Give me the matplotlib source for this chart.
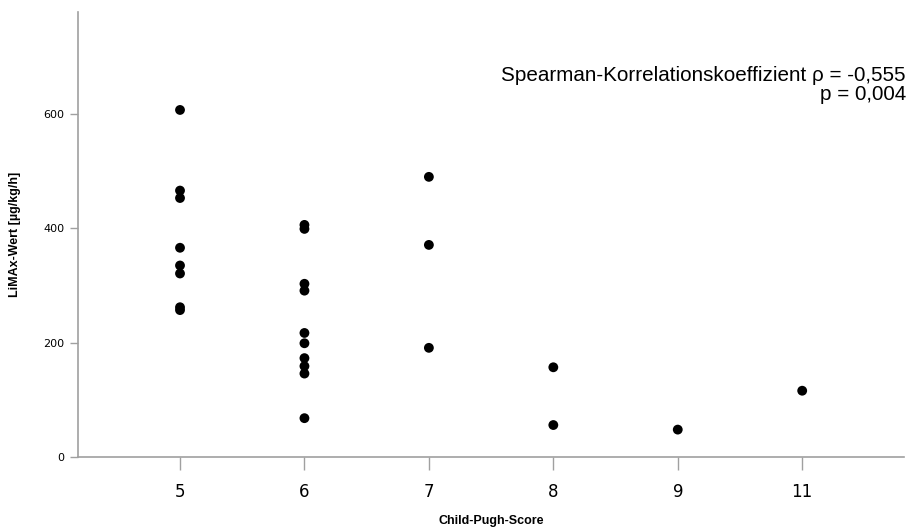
import matplotlib
matplotlib.use("Agg")
import matplotlib.pyplot as plt

# Child-Pugh categories (shown evenly spaced on the x axis)
categories = ["5", "6", "7", "8", "9", "11"]

# LiMAx values per category
limax_5 = [607, 466, 453, 366, 335, 321, 262, 257]
limax_6 = [406, 399, 303, 291, 217, 199, 173, 159, 146, 68]
limax_7 = [490, 371, 191]
limax_8 = [157, 56]
limax_9 = [48]
limax_11 = [116]

groups = [limax_5, limax_6, limax_7, limax_8, limax_9, limax_11]

annot_lines = ["Spearman-Korrelationskoeffizient \u03c1 = -0,555", "p = 0,004"]

fig = plt.figure(figsize=(9.13, 5.29), dpi=100)
ax = fig.add_axes([0.0854, 0.136, 0.905, 0.841])

for i, vals in enumerate(groups):
    ax.scatter([i] * len(vals), vals, s=50, color="black", edgecolors="none", zorder=3)

ax.set_xlim(-0.82, 5.82)
ax.set_ylim(0, 778)
ax.set_xticks(range(len(categories)))
ax.set_xticklabels(categories, fontsize=12,
                   family=["Liberation Sans Narrow", "DejaVu Sans"])
ax.set_yticks([0, 200, 400, 600])
ax.tick_params(axis="y", labelsize=8, length=6, color="#a0a0a0", width=1, pad=4)
ax.tick_params(axis="x", length=9, color="#a0a0a0", width=1, pad=10)

for side in ["top", "right"]:
    ax.spines[side].set_visible(False)
for side in ["left", "bottom"]:
    ax.spines[side].set_color("#a0a0a0")
    ax.spines[side].set_linewidth(1.2)

ax.set_xlabel("Child-Pugh-Score", fontsize=9, fontweight="bold",
              family="Liberation Sans", labelpad=10)
ax.set_ylabel("LiMAx-Wert [\u00b5g/kg/h]", fontsize=9, fontweight="bold",
              family="Liberation Sans", labelpad=16)

ax.text(1.002, 0.879, "\n".join(annot_lines), transform=ax.transAxes,
        ha="right", va="top", fontsize=14.9, family="Liberation Sans",
        linespacing=1.0)

fig.savefig("out.png", dpi=100)
